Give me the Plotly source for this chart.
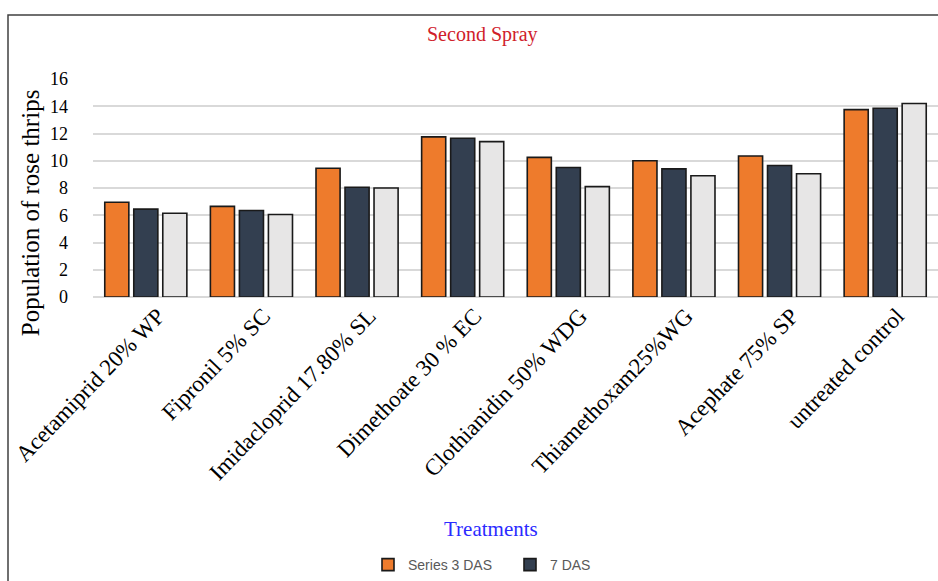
import plotly.graph_objects as go

# Treatments and mean thrips counts after the second spray
treatments = [
    "Acetamiprid 20% WP",
    "Fipronil 5% SC",
    "Imidacloprid 17.80% SL",
    "Dimethoate 30 % EC",
    "Clothianidin 50% WDG",
    "Thiamethoxam25%WG",
    "Acephate 75% SP",
    "untreated control",
]
das_3 = [6.95, 6.65, 9.45, 11.75, 10.25, 10.0, 10.35, 13.75]
das_7 = [6.45, 6.35, 8.05, 11.65, 9.5, 9.4, 9.65, 13.85]
das_14 = [6.15, 6.05, 8.0, 11.4, 8.1, 8.9, 9.05, 14.2]

serif = "Liberation Serif, Times New Roman, serif"
outline = dict(color="#1a1a1a", width=1.6)

fig = go.Figure()
fig.add_trace(go.Bar(x=treatments, y=das_3, name="Series 3 DAS",
                     marker=dict(color="#ee7b2c", line=outline)))
fig.add_trace(go.Bar(x=treatments, y=das_7, name="7 DAS",
                     marker=dict(color="#333f50", line=outline)))
fig.add_trace(go.Bar(x=treatments, y=das_14, name="14 DAS", showlegend=False,
                     marker=dict(color="#e7e6e6", line=outline)))

L, T, W, H = 93, 79, 845, 221  # plot area in pixels


def px_x(p):
    return (p - L) / W


def px_y(p):
    return (T + H - p) / H


fig.update_layout(
    width=938, height=581,
    margin=dict(l=L, r=938 - L - W, t=T, b=581 - T - H),
    paper_bgcolor="white", plot_bgcolor="white",
    barmode="group", bargap=0.176, bargroupgap=0.17,
    font=dict(family=serif, color="black"),
    xaxis=dict(tickangle=-46, tickfont=dict(family=serif, size=23, color="black"),
               ticklabelshift=12,
               showgrid=False, showline=False, ticks="", range=[-0.5, 7.5]),
    yaxis=dict(range=[0, 16], dtick=2, tickfont=dict(family=serif, size=18, color="black"),
               showgrid=True, gridcolor="#d9d9d9", gridwidth=1.5,
               zeroline=True, zerolinecolor="#d9d9d9", zerolinewidth=1.5,
               ticks="", showline=False, ticklabelstandoff=24),
    legend=dict(orientation="h", x=px_x(510), xanchor="center", y=px_y(572), yanchor="middle",
                font=dict(family="Liberation Sans, Arial, sans-serif",
                          size=14, color="#595959"),
                itemwidth=30, entrywidth=97, bgcolor="rgba(0,0,0,0)"),
    showlegend=True,
)

# Chart title, axis titles
fig.add_annotation(text="Second Spray", xref="paper", yref="paper",
                   x=px_x(482), y=px_y(34), showarrow=False, yanchor="middle",
                   font=dict(family=serif, size=20, color="#d0202a"))
fig.add_annotation(text="Treatments", xref="paper", yref="paper",
                   x=px_x(491), y=px_y(535), showarrow=False, yanchor="middle",
                   font=dict(family=serif, size=21, color="#2b2bff"))
fig.add_annotation(text="Population of rose thrips", xref="paper", yref="paper",
                   x=px_x(30), y=px_y(215), showarrow=False, textangle=-90,
                   xanchor="center", yanchor="middle",
                   font=dict(family=serif, size=25, color="black"))

# Outer frame around the chart
fig.add_shape(type="rect", xref="paper", yref="paper",
              x0=px_x(8), x1=px_x(960), y0=px_y(620), y1=px_y(14),
              line=dict(color="#404040", width=1.5), layer="below")

fig.write_html("out.html")
